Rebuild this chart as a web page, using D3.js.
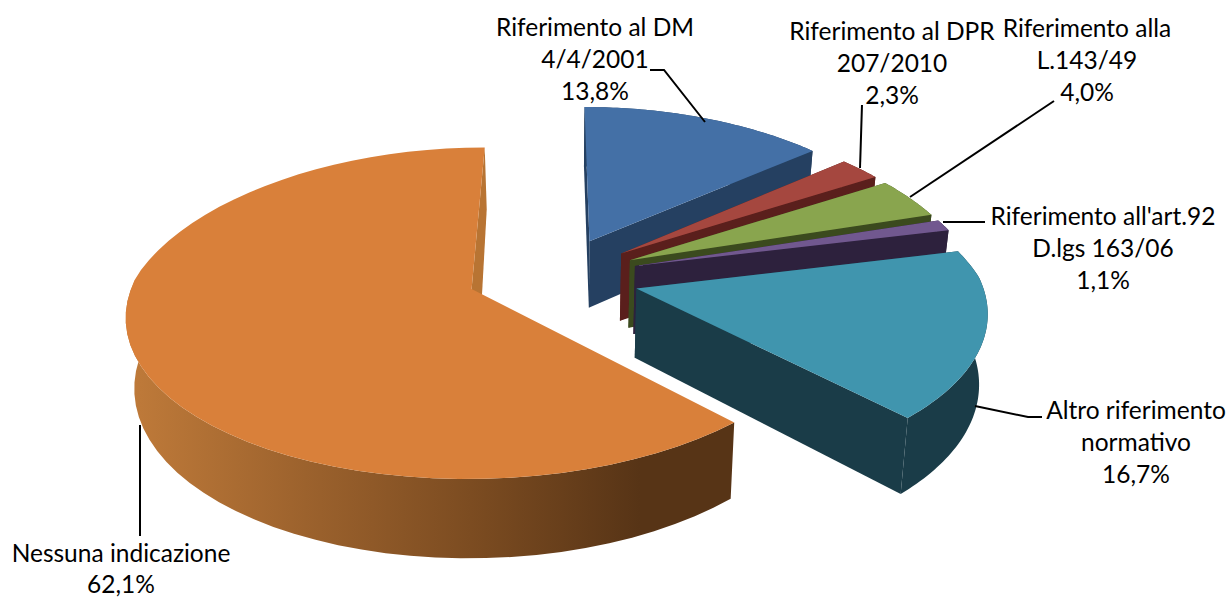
<!DOCTYPE html>
<html><head><meta charset="utf-8">
<style>html,body{margin:0;padding:0;background:#fff}svg{display:block}text{font-family:Lato,"Open Sans",sans-serif;font-size:24.5px;fill:#000;text-anchor:middle}</style>
<script src="https://cdn.jsdelivr.net/npm/d3@7/dist/d3.min.js"></script>
</head><body><svg id="c" width="1231" height="597"></svg>
<script>
const categories=["Riferimento al DM 4/4/2001","Riferimento al DPR 207/2010","Riferimento alla L.143/49","Riferimento all'art.92 D.lgs 163/06","Altro riferimento normativo","Nessuna indicazione"];
const values=[13.8,2.3,4.0,1.1,16.7,62.1];
const valueLabels=["13,8%","2,3%","4,0%","1,1%","16,7%","62,1%"];
const topColors=["#4470a6","#a5473f","#89a54e","#71588f","#4095ae","#d9803a"];
const sideColors=["#254061","#5a1f1c","#3b4a1e","#2d213d","#1a3c48","url(#og)"];

const svg=d3.select("#c");
const CX=556,CY=277,R=325,RX=344,EXPL=83,K=0.49,C=0.125,CFAR=0.18,D=68.5,SHR=0.98;
function proj(X,Y,z){
  const s=1/(1-C*Y/R);
  const sx=Y<0?1/(1-CFAR*Y/R):s;
  const x=X*sx, y=Y*K*s;
  return z? [CX+x*SHR, CY+y+D*s] : [CX+x, CY+y];
}
const defs=svg.append("defs");
const g=defs.append("linearGradient").attr("id","og").attr("gradientUnits","userSpaceOnUse").attr("x1",125).attr("x2",640).attr("y1",0).attr("y2",0);
[[0,"#c07b3a"],[0.35,"#9c622d"],[0.7,"#794a20"],[1,"#573416"]].forEach(d=>g.append("stop").attr("offset",d[0]).attr("stop-color",d[1]));

const pie=d3.pie().sort(null).startAngle(0).endAngle(2*Math.PI);
const arcs=pie(values);
const line=d3.line();
arcs.forEach((a,i)=>{
  const mid=(a.startAngle+a.endAngle)/2;
  const ox=EXPL*Math.sin(mid), oy=-EXPL*Math.cos(mid);
  const pts=d3.range(0,61).map(j=>a.startAngle+(a.endAngle-a.startAngle)*j/60);
  const P=(t,on,z)=>proj(ox+on*RX*Math.sin(t),oy-on*R*Math.cos(t),z);
  const outerT=pts.map(t=>{
    const p=P(t,1,false);
    if(i==5&&Math.cos(t)>0) p[0]-=5*Math.cos(t);
    return p;
  });
  // the wall of the large slice stops where it turns behind its own top face
  const wallPts=i==5?pts.filter(t=>Math.cos(t)<0.1):pts;
  const wallT=wallPts.map(t=>P(t,1,false));
  const wallB=wallPts.map(t=>P(t,1,true));
  const outerB=pts.map(t=>P(t,1,true));
  let apexT=P(0,0,false), apexB=P(0,0,true);
  const G=svg.append("g").attr("class","slice");
  const fill=sideColors[i];
  G.append("path").attr("d",line(wallT.concat(wallB.slice().reverse()))+"Z").attr("fill",fill);
  if(i==5){
    const c=outerT[0];
    apexT=[apexT[0]+(apexT[0]-c[0])*0.025,apexT[1]+(apexT[1]-c[1])*0.025];
    const e=outerT[60];
    G.append("path").attr("d",line([apexT,e,[e[0]+2,e[1]+62],[apexT[0]+7,apexT[1]+67]])+"Z").attr("fill","#b87433");
  } else {
    G.append("path").attr("d",line([apexT,outerT[0],outerB[0],apexB])+"Z").attr("fill",fill);
    G.append("path").attr("d",line([apexT,outerT[60],outerB[60],apexB])+"Z").attr("fill",fill);
  }
  G.append("path").attr("d",line([apexT].concat(outerT))+"Z").attr("fill",topColors[i]);
});
const leaders=[[[705,122],[664,70],[650,70]],[[860,168],[862,105]],[[910,197],[1054,101]],[[943,222],[985,222]],[[975,406],[1028,417],[1042,417]],[[140,425],[140,536]]];
leaders.forEach(l=>svg.append("path").attr("d",line(l)).attr("fill","none").attr("stroke","#000").attr("stroke-width",2));
const labelLines=[["Riferimento al DM","4/4/2001"],["Riferimento al DPR","207/2010"],["Riferimento alla","L.143/49"],["Riferimento all'art.92","D.lgs 163/06"],["Altro riferimento","normativo"],["Nessuna indicazione"]];
const labelAnchor=[[595,36],[892,40],[1087,37],[1103,225],[1136,419],[121,562]];
labelLines.forEach((ls,i)=>{
  ls.concat([valueLabels[i]]).forEach((t,j)=>{
    svg.append("text").attr("x",labelAnchor[i][0]).attr("y",labelAnchor[i][1]+j*(i==5?31:32)).text(t);
  });
});
</script></body></html>
